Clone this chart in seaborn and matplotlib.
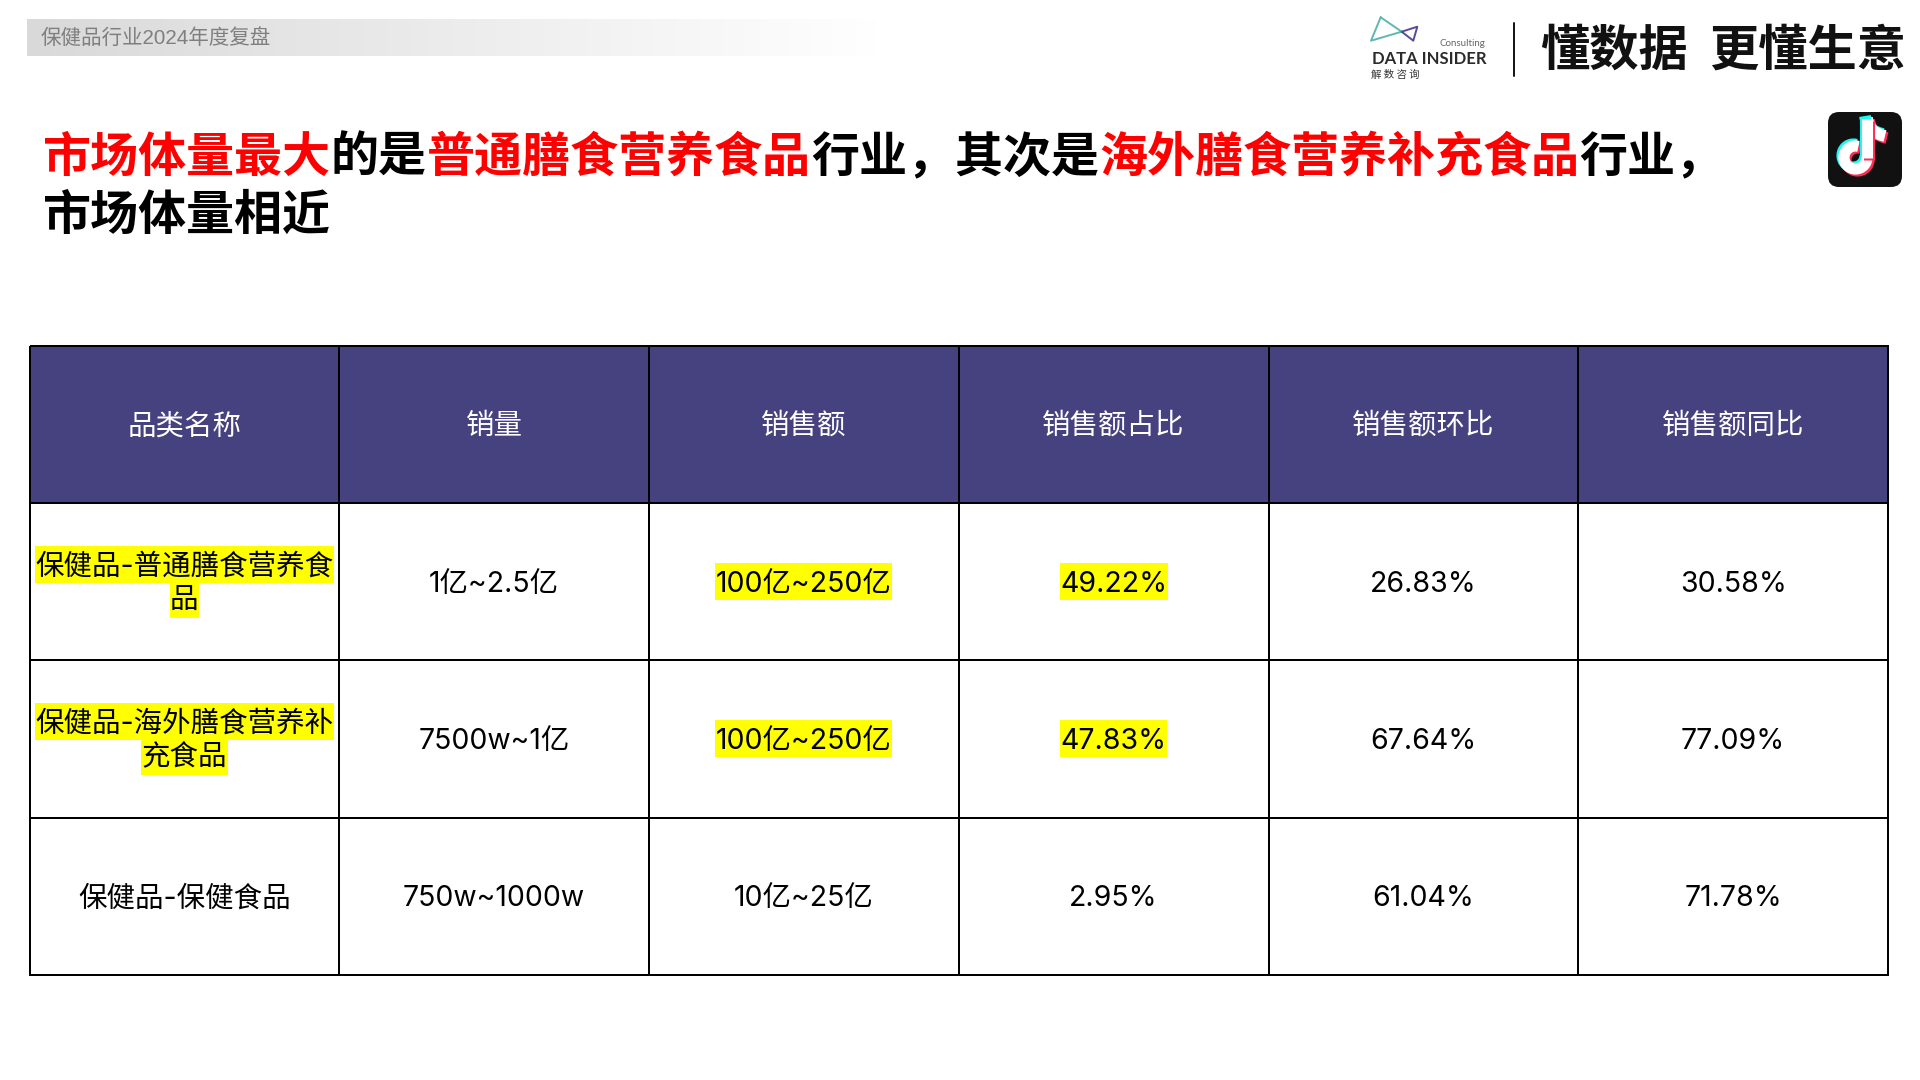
import numpy as np
import matplotlib
matplotlib.use("Agg")
import matplotlib.pyplot as plt
from matplotlib.colors import ListedColormap, LinearSegmentedColormap
from matplotlib.patches import Rectangle, FancyBboxPatch, Arc, PathPatch
from matplotlib.path import Path
import seaborn as sns

# ---------- data ----------
header = ["品类名称", "销量", "销售额", "销售额占比", "销售额环比", "销售额同比"]
categories = ["保健品-普通膳食营养食\n品", "保健品-海外膳食营养补\n充食品", "保健品-保健食品"]
volume = ["1亿~2.5亿", "7500w~1亿", "750w~1000w"]
sales = ["100亿~250亿", "100亿~250亿", "10亿~25亿"]
share = ["49.22%", "47.83%", "2.95%"]
mom = ["26.83%", "67.64%", "61.04%"]
yoy = ["30.58%", "77.09%", "71.78%"]
highlight = {(1, 0), (1, 2), (1, 3), (2, 0), (2, 2), (2, 3)}

title_line1 = [("市场体量最大", "#FF0000"), ("的是", "#000000"), ("普通膳食营养食品", "#FF0000"),
               ("行业，其次是", "#000000"), ("海外膳食营养补充食品", "#FF0000"), ("行业，", "#000000")]
title_line2 = [("市场体量相近", "#000000")]
section = "保健品行业2024年度复盘"

# ---------- setup ----------
sns.set_theme(style="white")
CJK = ["Noto Sans CJK SC", "DejaVu Sans"]
BODY = ["Inter", "Noto Sans CJK SC"]
plt.rcParams["font.family"] = CJK

W, H = 1920, 1080
fig = plt.figure(figsize=(19.2, 10.8), dpi=100, facecolor="white")

bg = fig.add_axes([0, 0, 1, 1], zorder=0)
bg.set_axis_off()

grad = LinearSegmentedColormap.from_list("g", ["#D9D9D9", "#FFFFFF"])
bg.imshow(np.linspace(0, 1, 256).reshape(1, -1), cmap=grad, extent=[27, 880, 56, 19.5], aspect="auto")
bg.set_xlim(0, W)
bg.set_ylim(H, 0)

bg.text(41, 38, section, fontsize=14.8, color="#7F7F7F", va="center", ha="left",
        family=["Liberation Sans", "Noto Sans CJK SC"])

# title
em = 48.03
for line, y in ((title_line1, 157.5), (title_line2, 215.5)):
    x = 42.5
    for seg, col in line:
        bg.text(x, y, seg, fontsize=34.6, color=col, fontweight="bold", va="center", ha="left")
        x += len(seg) * em

# logo
bg.plot([1380.7, 1371, 1401.7, 1380.7], [17.3, 40.7, 31.7, 17.3], color="#5FB8B0", lw=1.4)
bg.plot([1401.7, 1417.3, 1413.3, 1401.7], [31.7, 26.7, 40.7, 31.7], color="#5A4A9E", lw=1.4)
bg.text(1429, 59, "DATA INSIDER", fontsize=12, fontweight="bold", color="#2B2B2B", ha="center", va="center", family="Lato")
bg.text(1485, 44, "Consulting", fontsize=7, color="#666666", ha="right", va="center", family="Lato")
bg.text(1371, 75, "解 数 咨 询", fontsize=7.5, color="#333333", ha="left", va="center")
bg.plot([1514, 1514], [23, 76], color="#111111", lw=1.4)
bg.text(1540, 51, "懂数据", fontsize=35.5, fontweight="bold", color="#111111", ha="left", va="center")
bg.text(1709, 51, "更懂生意", fontsize=35.5, fontweight="bold", color="#111111", ha="left", va="center")

# app icon
bg.add_patch(FancyBboxPatch((1838, 122), 54, 55, boxstyle="round,pad=10,rounding_size=11",
                            fc="#111111", ec="none"))
cx, cy = 1855.5, 157.5
for dx, col in ((-2, "#25F4EE"), (2, "#FE2C55"), (0, "#FFFFFF")):
    bg.add_patch(Arc((cx + dx, cy + dx), 23, 23, theta1=0, theta2=285, ec=col, lw=8))
    bg.plot([cx + 11.5 + dx] * 2, [cy + dx, 119 + dx], color=col, lw=8, solid_capstyle="butt")
    bg.add_patch(PathPatch(Path([(1867 + dx, 118 + dx), (1869 + dx, 133 + dx), (1885 + dx, 136 + dx)],
                                [Path.MOVETO, Path.CURVE3, Path.CURVE3]),
                           fc="none", ec=col, lw=8.5, capstyle="butt"))

# table
left, right, top, bottom = 29.5, 1888, 345.5, 975
ax = fig.add_axes([left / W, 1 - bottom / H, (right - left) / W, (bottom - top) / H], zorder=1)
ax.patch.set_alpha(0)

n_rows, n_cols = len(categories) + 1, len(header)
roles = np.zeros((n_rows, n_cols), dtype=int)
roles[0, :] = 1
labels = np.array([header] + [list(r) for r in zip(categories, volume, sales, share, mom, yoy)], dtype=object)

sns.heatmap(roles, ax=ax, cmap=ListedColormap(["#FFFFFF", "#46417F"]), vmin=0, vmax=1, cbar=False,
            linewidths=1.4, linecolor="#000000", annot=labels, fmt="", xticklabels=False, yticklabels=False,
            annot_kws={"fontsize": 20.5, "family": BODY, "color": "#000000"})
ax.collections[0].set_clip_on(False)

fig.canvas.draw()
rend = fig.canvas.get_renderer()
cell_h = (bottom - top) / n_rows
cell_w = (right - left) / n_cols
box_h = 37 / cell_h
text_dy = 2.5 / cell_h
line_text_dy = (-14.5 / cell_h, 18.5 / cell_h)
line_box_dy = (-17 / cell_h, 18 / cell_h)


def mark(text_obj, yc):
    e = text_obj.get_window_extent(rend)
    x, _ = text_obj.get_position()
    w = (e.width + 1) / cell_w
    ax.add_patch(Rectangle((x - w / 2, yc - box_h / 2), w, box_h, fc="#FFFF00", ec="none", zorder=2))


for t in list(ax.texts):
    x, y = t.get_position()
    r, c = int(y), int(x)
    t.set_zorder(3)
    s = t.get_text()
    if "\n" in s:
        parts = s.split("\n")
        t.set_visible(False)
        for k, p in enumerate(parts):
            nt = ax.text(x, y + line_text_dy[k], p, ha="center", va="center", fontsize=20.5,
                         family=BODY, color="#000000", zorder=3)
            if (r, c) in highlight:
                mark(nt, y + line_box_dy[k])
    else:
        t.set_position((x, y + text_dy))
        if r == 0:
            t.set_color("#FFFFFF")
        if (r, c) in highlight:
            mark(t, y)

fig.savefig("out.png", dpi=100, facecolor="white")
